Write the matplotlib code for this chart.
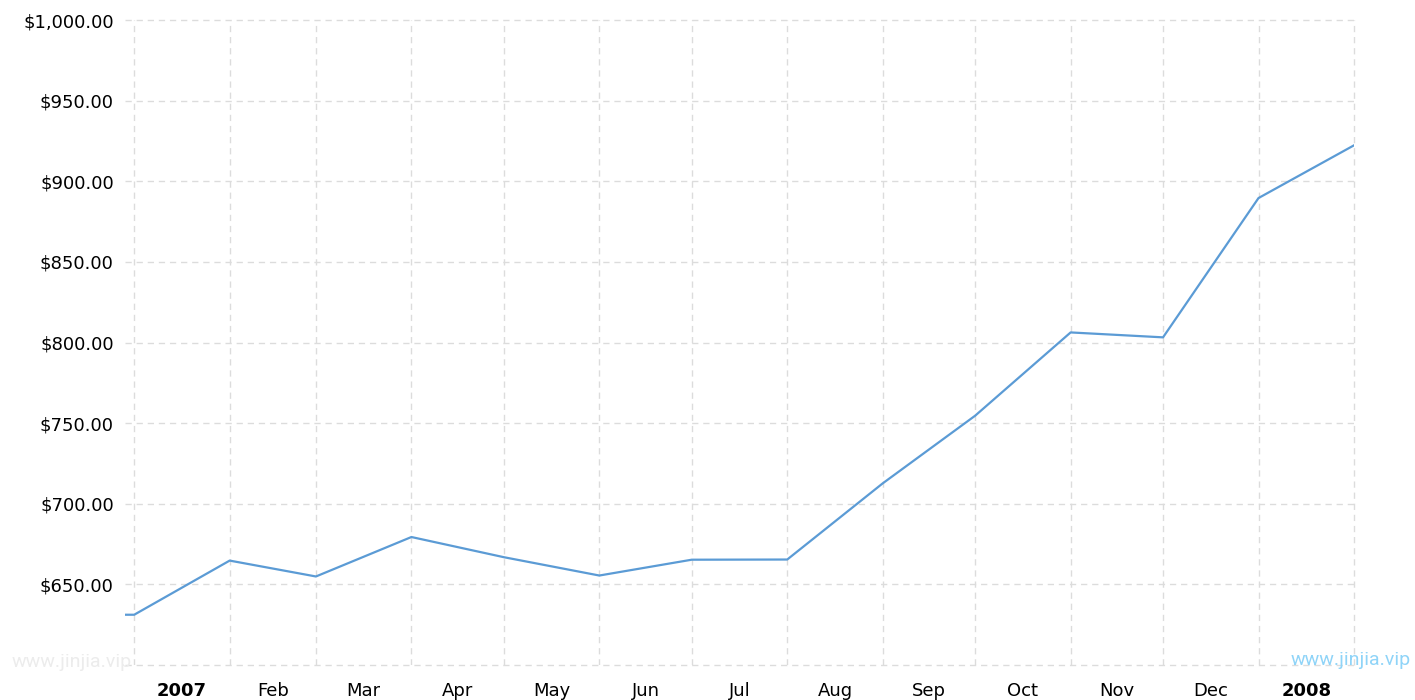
import numpy as np
import pandas as pd
import matplotlib
matplotlib.use('Agg')
import matplotlib.pyplot as plt
import matplotlib.dates as mdates
from matplotlib.ticker import FuncFormatter

# monthly gold price (USD)
dates = ['2006-12-29', '2007-01-01', '2007-02-01', '2007-03-01', '2007-04-01',
         '2007-05-01', '2007-06-01', '2007-07-01', '2007-08-01', '2007-09-01',
         '2007-10-01', '2007-11-01', '2007-12-01', '2008-01-01', '2008-02-01']
prices = [631.17, 631.17, 664.75, 654.90, 679.37, 666.86, 655.49, 665.30,
          665.41, 712.65, 754.60, 806.25, 803.20, 889.60, 922.30]

month_labels = ['2007', 'Feb', 'Mar', 'Apr', 'May', 'Jun', 'Jul', 'Aug',
                'Sep', 'Oct', 'Nov', 'Dec', '2008']
y_ticks = [650, 700, 750, 800, 850, 900, 950, 1000]

x = pd.to_datetime(dates)
month_starts = pd.date_range('2007-01-01', '2008-02-01', freq='MS')
mid_months = month_starts[:-1] + (month_starts[1:] - month_starts[:-1]) / 2

plt.rcParams['font.family'] = ['DejaVu Sans']

fig = plt.figure(figsize=(14.15, 7.0), dpi=100)
ax = fig.add_axes([0.0883, 0.05, 0.9569 - 0.0883, 0.9214])

ax.plot(x, prices, color='#5b9bd5', lw=1.6, zorder=3)

ax.set_xlim(x[0], month_starts[-1])
ax.set_ylim(600, 1000)

grid_kw = dict(color='#dcdcdc', lw=1.0, linestyle=(0, (4.5, 3.5)), zorder=1)
for d in month_starts:
    ax.axvline(d, clip_on=(d != month_starts[-1]), **grid_kw)
for v in [600] + y_ticks:
    ax.axhline(v, clip_on=False, **grid_kw)

ax.set_yticks(y_ticks)
ax.yaxis.set_major_formatter(FuncFormatter(lambda v, p: '${:,.2f}'.format(v)))
ax.tick_params(axis='y', length=0, pad=8, labelsize=13, colors='black')

ax.set_xticks(mid_months)
ax.set_xticklabels(month_labels)
ax.tick_params(axis='x', length=0, pad=12, labelsize=13, colors='black')
for lbl in ax.get_xticklabels():
    if lbl.get_text() in ('2007', '2008'):
        lbl.set_fontweight('bold')

for s in ax.spines.values():
    s.set_visible(False)

wm_font = ['Roboto', 'DejaVu Sans']
fig.text(0.0085, 0.054, 'www.jinjia.vip', color='#ececec', fontsize=14,
         family=wm_font, va='center', ha='left')
fig.text(0.997, 0.057, 'www.jinjia.vip', color='#8fd4f8', fontsize=14,
         family=wm_font, va='center', ha='right')

fig.savefig('out.png', dpi=100)
